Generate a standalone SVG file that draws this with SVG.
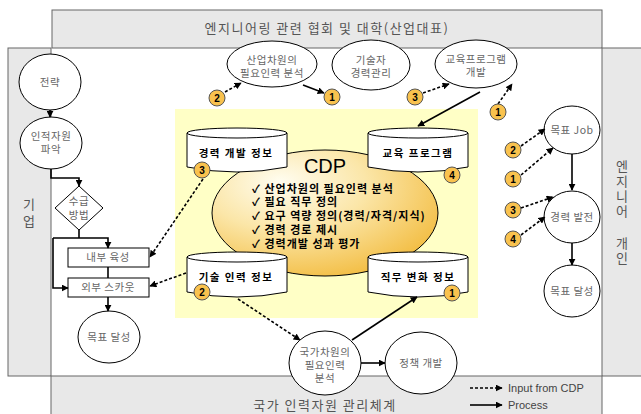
<svg xmlns="http://www.w3.org/2000/svg" width="641" height="414" viewBox="0 0 641 414">
  <defs>
    <marker id="ah" viewBox="0 0 10 10" refX="9" refY="5" markerWidth="7" markerHeight="7" markerUnits="userSpaceOnUse" orient="auto">
      <path d="M0,0 L10,5 L0,10 Z" fill="#000"/>
    </marker>
    <radialGradient id="cdpFill" cx="0.35" cy="0.3" r="0.8" fx="0.3" fy="0.25">
      <stop offset="0" stop-color="#fffdf0"/>
      <stop offset="0.45" stop-color="#fbe6a8"/>
      <stop offset="1" stop-color="#f2b938"/>
    </radialGradient>
  </defs>
  <style>
    .band { fill: #e8e8e8; stroke: #666; stroke-width: 1; }
    .node { fill: #fff; stroke: #000; stroke-width: 1; }
    .lbl { font-family: "Noto Sans CJK KR", "Liberation Sans", sans-serif; font-size: 10.5px; fill: #666; text-anchor: middle; letter-spacing: 0.5px; }
    .band-lbl { font-family: "Noto Sans CJK KR", "Liberation Sans", sans-serif; font-size: 13px; fill: #555; text-anchor: middle; letter-spacing: 1.5px; }
    .band-vert { font-family: "Noto Sans CJK KR", "Liberation Sans", sans-serif; font-size: 13px; fill: #555; writing-mode: vertical-rl; }
    .db-lbl { font-family: "Noto Sans CJK KR", "Liberation Sans", sans-serif; font-size: 10.5px; font-weight: bold; fill: #000; text-anchor: middle; letter-spacing: 1.5px; }
    .bullet { font-family: "Noto Sans CJK KR", "Liberation Sans", sans-serif; font-size: 11px; font-weight: bold; fill: #000; letter-spacing: 1px; }
    .badge circle { fill: #f9c24e; stroke: #555; stroke-width: 1; }
    .badge text { font-family: "Liberation Sans", Arial, sans-serif; font-size: 10px; font-weight: bold; fill: #000; text-anchor: middle; }
    .solid { fill: none; stroke: #000; stroke-width: 1.6; marker-end: url(#ah); }
    .dash { fill: none; stroke: #000; stroke-width: 1.6; stroke-dasharray: 3 2; marker-end: url(#ah); }
    .plain { fill: none; stroke: #000; stroke-width: 1.6; }
    .legend { font-family: "Liberation Sans", Arial, sans-serif; font-size: 11px; fill: #444; }
  </style>

  <!-- surrounding bands -->
  <g id="bands">
    <rect class="band" x="52" y="10" width="550" height="38"/>
    <rect class="band" x="8" y="48" width="43" height="328"/>
    <rect class="band" x="602" y="48" width="40" height="328"/>
    <rect class="band" x="51" y="376" width="551" height="40"/>
    <text class="band-lbl" x="327" y="33">엔지니어링 관련 협회 및 대학(산업대표)</text>
    <text class="band-vert" x="29" y="198" letter-spacing="4">기업</text>
    <text class="band-vert" x="622" y="160" letter-spacing="2">엔지니어</text>
    <text class="band-vert" x="622" y="237" letter-spacing="2">개인</text>
    <text class="band-lbl" x="325" y="410">국가 인력자원 관리체계</text>
  </g>

  <!-- CDP core -->
  <g id="cdp">
    <rect x="175" y="109" width="303" height="209" fill="#ffffc6"/>
    <ellipse cx="325" cy="213" rx="113" ry="63" fill="url(#cdpFill)" stroke="#000" stroke-width="1"/>
    <text x="325" y="173" font-family="Liberation Sans, Arial, sans-serif" font-size="20" text-anchor="middle" fill="#000">CDP</text>
    <text class="bullet">
      <tspan x="252" y="193">✓ 산업차원의 필요인력 분석</tspan>
      <tspan x="252" y="206">✓ 필요 직무 정의</tspan>
      <tspan x="252" y="220">✓ 요구 역량 정의(경력/자격/지식)</tspan>
      <tspan x="252" y="234">✓ 경력 경로 제시</tspan>
      <tspan x="252" y="248">✓ 경력개발 성과 평가</tspan>
    </text>
  </g>

  <!-- data stores -->
  <g id="db-career">
    <path class="node" d="M187,133 L187,167 Q237,177 287,167 L287,133"/>
    <ellipse class="node" cx="237" cy="133" rx="50" ry="5"/>
    <text class="db-lbl" x="236" y="157">경력 개발 정보</text>
  </g>
  <g id="db-edu">
    <path class="node" d="M368,133 L368,167 Q418,177 468,167 L468,133"/>
    <ellipse class="node" cx="418" cy="133" rx="50" ry="5"/>
    <text class="db-lbl" x="418" y="157">교육 프로그램</text>
  </g>
  <g id="db-tech">
    <path class="node" d="M187,257 L187,292 Q237,302 287,292 L287,257"/>
    <ellipse class="node" cx="237" cy="257" rx="50" ry="5"/>
    <text class="db-lbl" x="236" y="281">기술 인력 정보</text>
  </g>
  <g id="db-job">
    <path class="node" d="M368,257 L368,292 Q418,302 468,292 L468,257"/>
    <ellipse class="node" cx="418" cy="257" rx="50" ry="5"/>
    <text class="db-lbl" x="418" y="281">직무 변화 정보</text>
  </g>

  <!-- industry / association nodes -->
  <g id="n-industry-need">
    <ellipse class="node" cx="272" cy="64" rx="45" ry="23"/>
    <text class="lbl"><tspan x="272" y="64">산업차원의</tspan><tspan x="272" y="77">필요인력 분석</tspan></text>
  </g>
  <g id="n-engineer-career">
    <ellipse class="node" cx="371" cy="65" rx="39" ry="25"/>
    <text class="lbl"><tspan x="371" y="64">기술자</tspan><tspan x="371" y="77">경력관리</tspan></text>
  </g>
  <g id="n-edu-dev">
    <ellipse class="node" cx="476" cy="64" rx="41" ry="24"/>
    <text class="lbl"><tspan x="476" y="63">교육프로그램</tspan><tspan x="476" y="76">개발</tspan></text>
  </g>

  <!-- enterprise nodes -->
  <g id="n-strategy">
    <ellipse class="node" cx="50" cy="82" rx="31" ry="28"/>
    <text class="lbl" x="50" y="86">전략</text>
  </g>
  <g id="n-hr-grasp">
    <ellipse class="node" cx="51" cy="143" rx="31" ry="26"/>
    <text class="lbl"><tspan x="51" y="140">인적자원</tspan><tspan x="51" y="153">파악</tspan></text>
  </g>
  <g id="n-supply">
    <path class="node" d="M79,186 L103,208 L79,230 L55,208 Z"/>
    <text class="lbl"><tspan x="79" y="205">수급</tspan><tspan x="79" y="219">방법</tspan></text>
  </g>
  <g id="n-internal">
    <rect class="node" x="68" y="248" width="81" height="19"/>
    <text class="lbl" x="108" y="261">내부 육성</text>
  </g>
  <g id="n-scout">
    <rect class="node" x="68" y="278" width="81" height="19"/>
    <text class="lbl" x="108" y="291">외부 스카웃</text>
  </g>
  <g id="n-goal-corp">
    <ellipse class="node" cx="109" cy="337" rx="31" ry="26"/>
    <text class="lbl" x="109" y="341">목표 달성</text>
  </g>

  <!-- national nodes -->
  <g id="n-national-need">
    <ellipse class="node" cx="325" cy="363" rx="36" ry="32"/>
    <text class="lbl"><tspan x="325" y="356">국가차원의</tspan><tspan x="325" y="369">필요인력</tspan><tspan x="325" y="382">분석</tspan></text>
  </g>
  <g id="n-policy">
    <ellipse class="node" cx="421" cy="363" rx="36" ry="31"/>
    <text class="lbl" x="421" y="367">정책 개발</text>
  </g>

  <!-- engineer nodes -->
  <g id="n-goal-job">
    <ellipse class="node" cx="572" cy="130" rx="28" ry="24"/>
    <text class="lbl" x="572" y="134">목표 Job</text>
  </g>
  <g id="n-career-growth">
    <ellipse class="node" cx="572" cy="217" rx="28" ry="26"/>
    <text class="lbl" x="572" y="221">경력 발전</text>
  </g>
  <g id="n-goal-eng">
    <ellipse class="node" cx="572" cy="291" rx="28" ry="26"/>
    <text class="lbl" x="572" y="295">목표 달성</text>
  </g>

  <!-- connectors -->
  <g id="connectors">
    <path class="solid" d="M50,110 L50,117"/>
    <path class="solid" d="M51,169 L51,178 L79,178 L79,186"/>
    <path class="plain" d="M79,230 L79,238"/>
    <path class="solid" d="M53,238 L108,238 L108,248"/>
    <path class="solid" d="M53,238 L53,288 L68,288"/>
    <path class="plain" d="M108,267 L108,278"/>
    <path class="solid" d="M108,297 L108,311"/>
    <path class="dash" d="M203,179 L150,257"/>
    <path class="dash" d="M186,273 L150,286"/>

    <path class="dash" d="M225,92 L241,83"/>
    <path class="solid" d="M303,85 L324,93"/>
    <path class="dash" d="M423,93 L449,84"/>
    <path class="dash" d="M498,104 L512,84"/>
    <path class="solid" d="M480,92 L418,126"/>

    <path class="dash" d="M238,299 L300,340"/>
    <path class="solid" d="M352,340 L417,297"/>
    <path class="solid" d="M361,363 L385,363"/>

    <path class="solid" d="M572,154 L572,190"/>
    <path class="solid" d="M572,243 L572,265"/>
    <path class="dash" d="M521,146 L545,129"/>
    <path class="dash" d="M521,175 L553,148"/>
    <path class="dash" d="M521,208 L553,197"/>
    <path class="dash" d="M521,235 L545,217"/>

    <!-- legend -->
    <path class="dash" d="M470,388 L502,388"/>
    <path class="solid" d="M470,405 L502,405"/>
    <text class="legend" x="508" y="392">Input from CDP</text>
    <text class="legend" x="508" y="409">Process</text>
  </g>

  <!-- numbered badges -->
  <g id="badges">
    <g class="badge"><circle cx="217" cy="98" r="8"/><text x="217" y="102">2</text></g>
    <g class="badge"><circle cx="332" cy="97" r="8"/><text x="332" y="101">1</text></g>
    <g class="badge"><circle cx="415" cy="97" r="8"/><text x="415" y="101">3</text></g>
    <g class="badge"><circle cx="498" cy="112" r="8"/><text x="498" y="116">1</text></g>
    <g class="badge"><circle cx="202" cy="170" r="8"/><text x="202" y="174">3</text></g>
    <g class="badge"><circle cx="452" cy="175" r="8"/><text x="452" y="179">4</text></g>
    <g class="badge"><circle cx="202" cy="292" r="8"/><text x="202" y="296">2</text></g>
    <g class="badge"><circle cx="452" cy="293" r="8"/><text x="452" y="297">1</text></g>
    <g class="badge"><circle cx="513" cy="150" r="8"/><text x="513" y="154">2</text></g>
    <g class="badge"><circle cx="513" cy="179" r="8"/><text x="513" y="183">1</text></g>
    <g class="badge"><circle cx="513" cy="210" r="8"/><text x="513" y="214">3</text></g>
    <g class="badge"><circle cx="513" cy="239" r="8"/><text x="513" y="243">4</text></g>
  </g>
</svg>
